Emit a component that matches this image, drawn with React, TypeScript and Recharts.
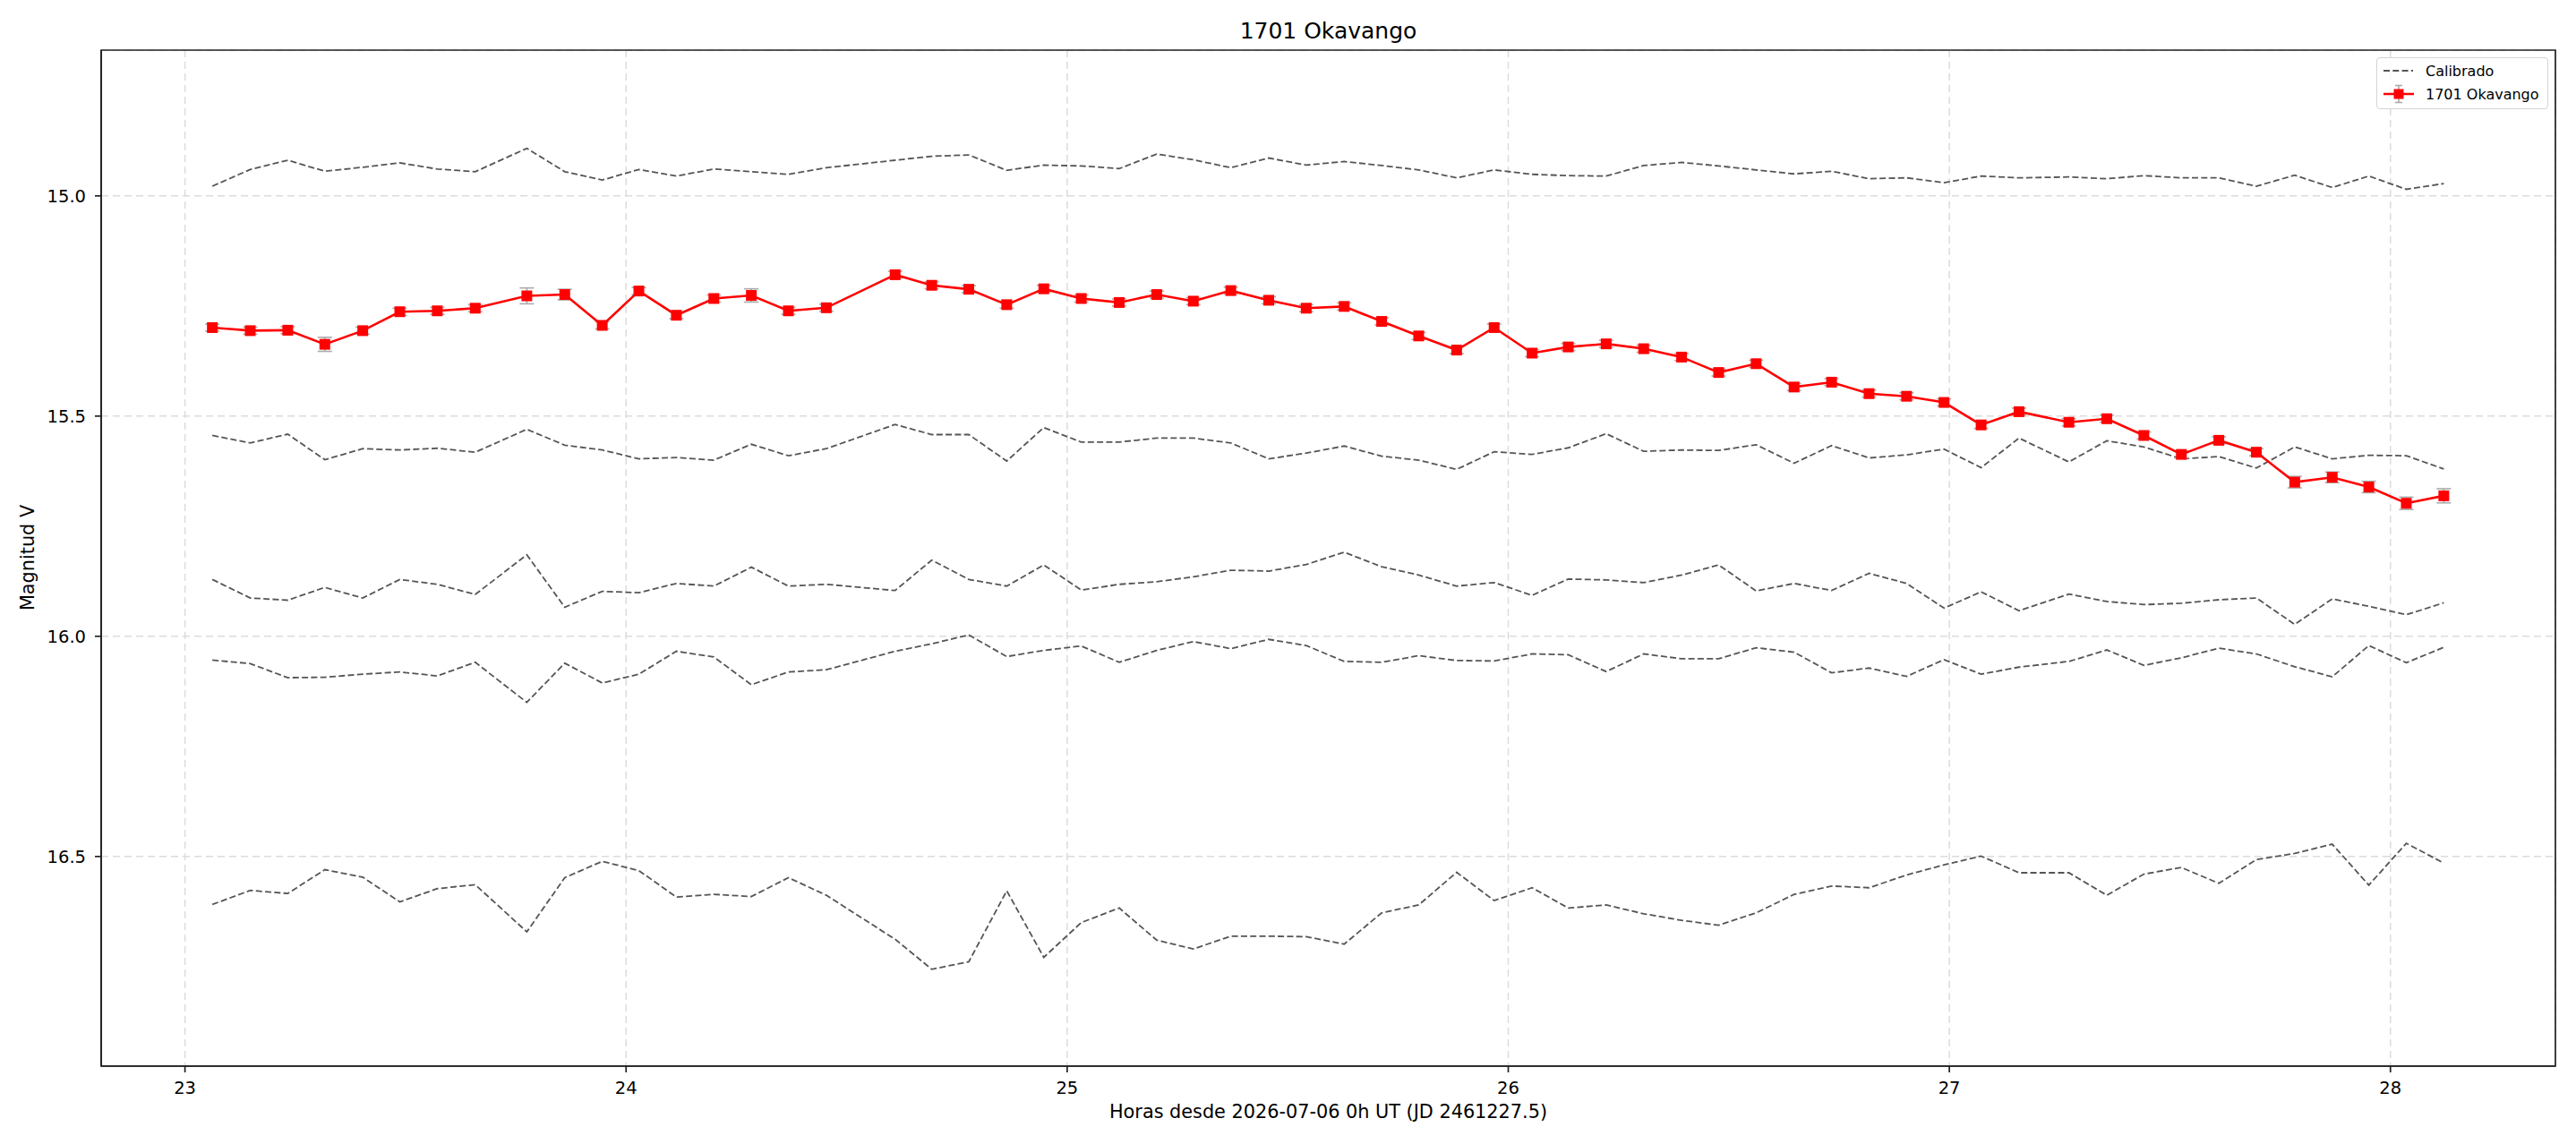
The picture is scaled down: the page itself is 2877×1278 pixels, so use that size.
import React from 'react'
import { LineChart, Line, XAxis, YAxis, CartesianGrid, ErrorBar, ReferenceArea } from 'recharts'

// hours since 2026-07-06 0h UT
const hours = [
  23.062, 23.148, 23.233, 23.317, 23.403, 23.487, 23.572, 23.658, 23.775, 23.861,
  23.946, 24.029, 24.114, 24.199, 24.284, 24.368, 24.454, 24.610, 24.693, 24.777,
  24.863, 24.947, 25.032, 25.118, 25.203, 25.286, 25.371, 25.457, 25.542, 25.628,
  25.713, 25.797, 25.883, 25.968, 26.054, 26.136, 26.222, 26.307, 26.393, 26.477,
  26.562, 26.648, 26.733, 26.818, 26.903, 26.988, 27.072, 27.158, 27.271, 27.357,
  27.441, 27.526, 27.611, 27.696, 27.783, 27.868, 27.951, 28.036, 28.121,
]

const okavango = [
  15.299, 15.306, 15.305, 15.337, 15.306, 15.263, 15.261, 15.255, 15.227, 15.224,
  15.294, 15.216, 15.271, 15.233, 15.226, 15.261, 15.254, 15.179, 15.203, 15.212,
  15.247, 15.211, 15.233, 15.242, 15.224, 15.239, 15.215, 15.237, 15.255, 15.251,
  15.285, 15.318, 15.350, 15.299, 15.357, 15.343, 15.336, 15.347, 15.366, 15.401,
  15.381, 15.434, 15.423, 15.449, 15.455, 15.469, 15.520, 15.490, 15.514, 15.506,
  15.544, 15.587, 15.555, 15.582, 15.650, 15.639, 15.661, 15.698, 15.681,
]

const okavangoErr = [
  0.008, 0.008, 0.008, 0.016, 0.008, 0.008, 0.008, 0.008, 0.018, 0.012,
  0.008, 0.008, 0.008, 0.008, 0.015, 0.008, 0.008, 0.008, 0.008, 0.008,
  0.008, 0.008, 0.008, 0.008, 0.008, 0.008, 0.008, 0.008, 0.008, 0.008,
  0.008, 0.008, 0.008, 0.008, 0.008, 0.008, 0.008, 0.008, 0.008, 0.008,
  0.008, 0.008, 0.008, 0.008, 0.008, 0.008, 0.008, 0.008, 0.008, 0.008,
  0.008, 0.008, 0.008, 0.008, 0.013, 0.012, 0.013, 0.014, 0.016,
]

// calibration stars
const calA = [
  14.978, 14.940, 14.919, 14.944, 14.935, 14.925, 14.939, 14.945, 14.892, 14.945,
  14.964, 14.940, 14.955, 14.939, 14.945, 14.951, 14.936, 14.919, 14.910, 14.907,
  14.942, 14.930, 14.932, 14.938, 14.905, 14.918, 14.936, 14.914, 14.930, 14.922,
  14.931, 14.941, 14.959, 14.941, 14.951, 14.954, 14.955, 14.931, 14.924, 14.932,
  14.941, 14.950, 14.944, 14.961, 14.959, 14.970, 14.955, 14.959, 14.957, 14.961,
  14.954, 14.959, 14.959, 14.978, 14.953, 14.981, 14.955, 14.985, 14.972,
]
const calB = [
  15.544, 15.561, 15.541, 15.599, 15.574, 15.577, 15.573, 15.582, 15.530, 15.566,
  15.577, 15.597, 15.594, 15.600, 15.564, 15.590, 15.574, 15.519, 15.542, 15.542,
  15.602, 15.526, 15.559, 15.559, 15.550, 15.550, 15.561, 15.597, 15.584, 15.568,
  15.591, 15.600, 15.621, 15.581, 15.587, 15.572, 15.540, 15.580, 15.577, 15.578,
  15.565, 15.607, 15.567, 15.595, 15.588, 15.575, 15.617, 15.550, 15.604, 15.556,
  15.570, 15.597, 15.592, 15.618, 15.570, 15.597, 15.589, 15.590, 15.620,
]
const calC = [
  15.871, 15.913, 15.918, 15.889, 15.913, 15.871, 15.882, 15.905, 15.815, 15.934,
  15.898, 15.901, 15.880, 15.886, 15.843, 15.886, 15.882, 15.896, 15.827, 15.871,
  15.886, 15.838, 15.895, 15.882, 15.876, 15.865, 15.850, 15.852, 15.837, 15.809,
  15.842, 15.861, 15.886, 15.878, 15.907, 15.870, 15.872, 15.878, 15.861, 15.838,
  15.897, 15.880, 15.896, 15.857, 15.880, 15.936, 15.899, 15.942, 15.904, 15.921,
  15.928, 15.925, 15.917, 15.913, 15.973, 15.915, 15.932, 15.951, 15.924,
]
const calD = [
  16.054, 16.062, 16.094, 16.093, 16.086, 16.081, 16.090, 16.059, 16.150, 16.061,
  16.106, 16.086, 16.034, 16.047, 16.110, 16.081, 16.076, 16.034, 16.017, 15.997,
  16.046, 16.032, 16.022, 16.059, 16.032, 16.012, 16.028, 16.007, 16.021, 16.057,
  16.059, 16.044, 16.055, 16.056, 16.040, 16.042, 16.080, 16.040, 16.051, 16.051,
  16.026, 16.036, 16.083, 16.072, 16.091, 16.053, 16.086, 16.070, 16.057, 16.031,
  16.066, 16.049, 16.027, 16.040, 16.069, 16.092, 16.021, 16.060, 16.025,
]
const calE = [
  16.609, 16.577, 16.584, 16.530, 16.547, 16.603, 16.573, 16.564, 16.671, 16.548,
  16.511, 16.532, 16.592, 16.586, 16.591, 16.548, 16.588, 16.688, 16.756, 16.739,
  16.578, 16.729, 16.650, 16.617, 16.690, 16.710, 16.681, 16.681, 16.682, 16.699,
  16.628, 16.610, 16.536, 16.600, 16.571, 16.617, 16.610, 16.630, 16.645, 16.656,
  16.628, 16.586, 16.567, 16.571, 16.542, 16.519, 16.499, 16.537, 16.537, 16.588,
  16.540, 16.525, 16.561, 16.507, 16.493, 16.472, 16.565, 16.470, 16.515,
]

const xTicks = [23, 24, 25, 26, 27, 28]
const yTicks = [15.0, 15.5, 16.0, 16.5]
const X_DOMAIN: [number, number] = [22.81, 28.374]
const Y_DOMAIN: [number, number] = [14.669, 16.976]

const calSeries = [calA, calB, calC, calD, calE]

const data = hours.map((h, i) => ({
  h,
  ok: okavango[i],
  err: okavangoErr[i],
  c0: calA[i],
  c1: calB[i],
  c2: calC[i],
  c3: calD[i],
  c4: calE[i],
}))

const FONT = '"DejaVu Sans", sans-serif'
const CAL_COLOR = '#555555'
const RED = '#ff0000'
const SPINE = '#222222'

function SquareDot(props: any) {
  const { cx, cy } = props
  if (cx == null || cy == null) return null
  return <rect x={cx - 6} y={cy - 6} width={12} height={12} fill={RED} />
}

export default function App() {
  return (
    <div style={{ position: 'absolute', left: 0, top: 0, width: 2877, height: 1278, background: '#fff', fontFamily: FONT }}>
      <LineChart
        width={2877}
        height={1278}
        data={data}
        margin={{ top: 56, right: 23, bottom: 27, left: 33 }}
      >
        <CartesianGrid stroke="#dcdcdc" strokeWidth={1.5} strokeDasharray="8 5" />
        <XAxis
          type="number"
          dataKey="h"
          domain={X_DOMAIN}
          allowDataOverflow
          ticks={xTicks}
          interval={0}
          height={60}
          tickSize={7}
          tickMargin={10}
          stroke={SPINE}
          strokeWidth={1.7}
          tick={{ fill: '#000', fontSize: 19.5, fontFamily: FONT }}
        />
        <YAxis
          type="number"
          domain={Y_DOMAIN}
          allowDataOverflow
          reversed
          ticks={yTicks}
          interval={0}
          width={80}
          tickSize={7}
          tickMargin={10}
          stroke={SPINE}
          strokeWidth={1.7}
          tickFormatter={(v: number) => v.toFixed(1)}
          tick={{ fill: '#000', fontSize: 19.5, fontFamily: FONT }}
        />
        {calSeries.map((_, k) => (
          <Line
            key={k}
            dataKey={`c${k}`}
            stroke={CAL_COLOR}
            strokeWidth={1.8}
            strokeDasharray="7 3.3"
            dot={false}
            activeDot={false}
            isAnimationActive={false}
          />
        ))}
        <Line
          dataKey="ok"
          stroke={RED}
          strokeWidth={2.6}
          dot={<SquareDot />}
          activeDot={false}
          isAnimationActive={false}
        >
          <ErrorBar dataKey="err" direction="y" width={8} stroke="#aaaaaa" strokeWidth={1.6} />
        </Line>
        <ReferenceArea
          x1={X_DOMAIN[0]}
          x2={X_DOMAIN[1]}
          y1={Y_DOMAIN[0]}
          y2={Y_DOMAIN[1]}
          fill="none"
          fillOpacity={0}
          stroke={SPINE}
          strokeWidth={1.7}
          ifOverflow="visible"
        />
      </LineChart>

      <svg width={2877} height={1278} style={{ position: 'absolute', left: 0, top: 0, pointerEvents: 'none' }}>
        <text x={1483.5} y={42.5} textAnchor="middle" fontSize={25} fontFamily={FONT} fill="#000">
          1701 Okavango
        </text>
        <text x={1483.5} y={1249} textAnchor="middle" fontSize={20.8} fontFamily={FONT} fill="#000">
          Horas desde 2026-07-06 0h UT (JD 2461227.5)
        </text>
        <text
          x={38}
          y={623}
          textAnchor="middle"
          fontSize={20.8}
          fontFamily={FONT}
          fill="#000"
          transform="rotate(-90 38 623)"
        >
          Magnitud V
        </text>
      </svg>

      {/* legend */}
      <div
        style={{
          position: 'absolute',
          left: 2654,
          top: 64,
          width: 192,
          height: 58,
          boxSizing: 'border-box',
          border: '1.5px solid #d4d4d4',
          borderRadius: 4,
          background: 'rgba(255,255,255,0.8)',
        }}
      >
        <svg width={190} height={56} style={{ position: 'absolute', left: 0, top: 0 }}>
          <line x1={7} x2={40} y1={14} y2={14} stroke={CAL_COLOR} strokeWidth={1.8} strokeDasharray="7 3.3" />
          <text x={54} y={14} dominantBaseline="central" fontSize={16} fontFamily={FONT} fill="#000">
            Calibrado
          </text>
          <line x1={7} x2={41} y1={40} y2={40} stroke={RED} strokeWidth={2.6} />
          <line x1={24} x2={24} y1={30.5} y2={49.5} stroke="#aaaaaa" strokeWidth={1.6} />
          <line x1={20} x2={28} y1={30.5} y2={30.5} stroke="#aaaaaa" strokeWidth={1.6} />
          <line x1={20} x2={28} y1={49.5} y2={49.5} stroke="#aaaaaa" strokeWidth={1.6} />
          <rect x={18.5} y={34.5} width={11} height={11} fill={RED} />
          <text x={54} y={40} dominantBaseline="central" fontSize={16} fontFamily={FONT} fill="#000">
            1701 Okavango
          </text>
        </svg>
      </div>
    </div>
  )
}
